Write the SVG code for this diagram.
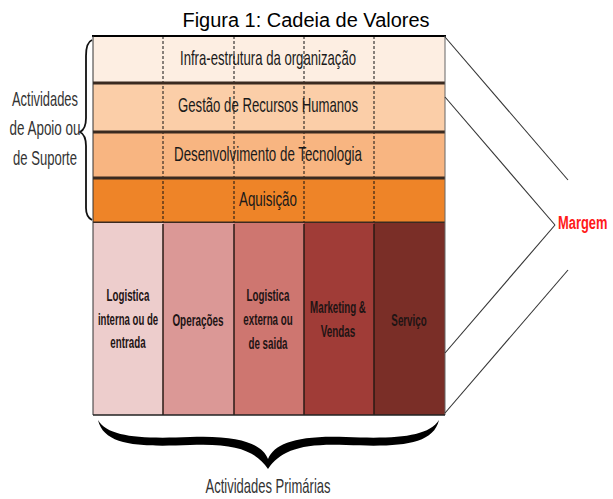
<svg xmlns="http://www.w3.org/2000/svg" width="613" height="499" viewBox="0 0 613 499">
<style>
.t{font-family:"Liberation Sans",Arial,sans-serif;fill:#1a1a1a}
.row{font-size:21px;text-anchor:middle}
.pri{font-size:16px;font-weight:bold;text-anchor:middle;fill:#1e1414}
.side{font-size:21px;text-anchor:middle;fill:#333}
.title{font-size:20px;text-anchor:middle;fill:#000}
.marg{font-size:19px;font-weight:bold;fill:#FF1A1A}
.dash{stroke:#111;stroke-width:1;stroke-dasharray:3 2}
.sep{stroke:#2a1a14;stroke-width:1.5}
.div{stroke:#3a2a20;stroke-width:3}
.m{stroke:#333;stroke-width:1.1;fill:none}
</style>
<rect width="613" height="499" fill="#fff"/>
<text class="t title" x="306" y="27" textLength="247" lengthAdjust="spacingAndGlyphs">Figura 1: Cadeia de Valores</text>

<g id="support">
  <g id="infra"><rect x="93" y="36" width="352" height="47" fill="#FDEEE2"/>
    <text class="t row" x="268" y="65" textLength="176" lengthAdjust="spacingAndGlyphs">Infra-estrutura da organização</text></g>
  <g id="rh"><rect x="93" y="83" width="352" height="49" fill="#FBCEA8"/>
    <text class="t row" x="268" y="112" textLength="180" lengthAdjust="spacingAndGlyphs">Gestão de Recursos Humanos</text></g>
  <g id="tec"><rect x="93" y="132" width="352" height="46" fill="#F8B581"/>
    <text class="t row" x="268" y="161" textLength="188" lengthAdjust="spacingAndGlyphs">Desenvolvimento de Tecnologia</text></g>
  <g id="aq"><rect x="93" y="178" width="352" height="45" fill="#EE8428"/>
    <text class="t row" x="268" y="206" textLength="58" lengthAdjust="spacingAndGlyphs">Aquisição</text></g>
  <line class="dash" x1="163" y1="36" x2="163" y2="223"/>
  <line class="dash" x1="234" y1="36" x2="234" y2="223"/>
  <line class="dash" x1="304" y1="36" x2="304" y2="223"/>
  <line class="dash" x1="374" y1="36" x2="374" y2="223"/>
  <line class="div" x1="93" y1="83" x2="445" y2="83"/>
  <line class="div" x1="93" y1="132" x2="445" y2="132"/>
  <line class="div" x1="93" y1="178" x2="445" y2="178"/>
  <line class="div" x1="93" y1="223" x2="445" y2="223"/>
</g>

<g id="primary">
  <g id="p1"><rect x="93" y="223" width="70" height="192" fill="#EDCDCC"/>
    <text class="t pri" transform="translate(128 301) scale(0.61 1)">Logistica</text>
    <text class="t pri" transform="translate(128 325) scale(0.6 1)">interna ou de</text>
    <text class="t pri" transform="translate(128 348) scale(0.61 1)">entrada</text></g>
  <g id="p2"><rect x="163" y="223" width="71" height="192" fill="#DB9896"/>
    <text class="t pri" transform="translate(198 326) scale(0.62 1)">Operações</text></g>
  <g id="p3"><rect x="234" y="223" width="70" height="192" fill="#CE7670"/>
    <text class="t pri" transform="translate(268 301) scale(0.61 1)">Logistica</text>
    <text class="t pri" transform="translate(268 325) scale(0.61 1)">externa ou</text>
    <text class="t pri" transform="translate(268 349) scale(0.61 1)">de saida</text></g>
  <g id="p4"><rect x="304" y="223" width="70" height="192" fill="#A03C37"/>
    <text class="t pri" transform="translate(338 313) scale(0.61 1)">Marketing &amp;</text>
    <text class="t pri" transform="translate(338 337) scale(0.62 1)">Vendas</text></g>
  <g id="p5"><rect x="374" y="223" width="71" height="192" fill="#7A2E27"/>
    <text class="t pri" transform="translate(409 326) scale(0.61 1)">Serviço</text></g>
  <line class="sep" x1="163" y1="224" x2="163" y2="415"/>
  <line class="sep" x1="234" y1="224" x2="234" y2="415"/>
  <line class="sep" x1="304" y1="224" x2="304" y2="415"/>
  <line class="sep" x1="374" y1="224" x2="374" y2="415"/>
</g>

<g id="frame" fill="none">
  <line x1="92" y1="36" x2="446" y2="36" stroke="#000" stroke-width="2.2"/>
  <line x1="93" y1="36" x2="93" y2="415" stroke="#333" stroke-width="1"/>
  <line x1="445" y1="36" x2="445" y2="415" stroke="#666" stroke-width="1"/>
  <line x1="93" y1="415" x2="445" y2="415" stroke="#222" stroke-width="1.5"/>
</g>

<g id="connectors">
  <line class="m" x1="445" y1="37" x2="568" y2="180"/>
  <line class="m" x1="445" y1="97" x2="555" y2="225"/>
  <line class="m" x1="555" y1="225" x2="445" y2="353"/>
  <line class="m" x1="568" y1="270" x2="445" y2="413"/>
  <path d="M92,40 C87,42 86,48 86,56 L86,118 C86,126 84,130 80,132 C84,134 86,138 86,146 L86,208 C86,214 88,218 92,220" fill="none" stroke="#111" stroke-width="1.8"/>
  <path d="M98,420 C108,437 140,439 190,437 C240,435 262,444 268,459 C274,444 296,435 346,437 C396,439 428,437 439,420 C433,446 396,447 346,445 C300,443 280,451 268,469 C256,451 236,443 190,445 C140,447 104,446 98,420 Z" fill="#000"/>
</g>

<g id="labels">
  <text class="t side" x="45" y="106" textLength="66" lengthAdjust="spacingAndGlyphs">Actividades</text>
  <text class="t side" x="45" y="135" textLength="71" lengthAdjust="spacingAndGlyphs">de Apoio ou</text>
  <text class="t side" x="45" y="165" textLength="64" lengthAdjust="spacingAndGlyphs">de Suporte</text>
  <text class="t side" x="268" y="493" textLength="125" lengthAdjust="spacingAndGlyphs">Actividades Primárias</text>
  <text class="t marg" transform="translate(558 229) scale(0.68 1)">Margem</text>
</g>
</svg>
